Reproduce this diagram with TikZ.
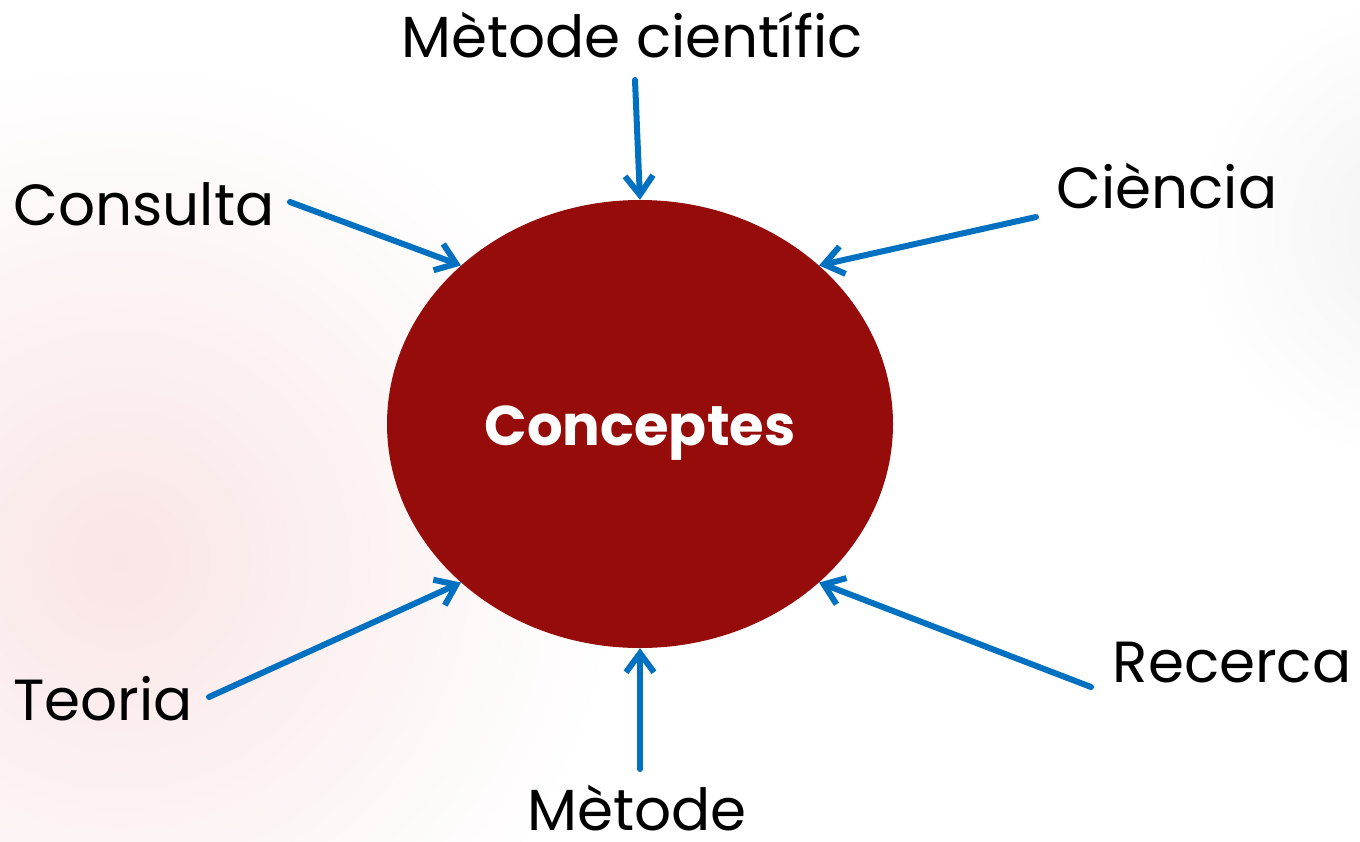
\documentclass[tikz,border=0pt]{standalone}
\usepackage{fontspec}
\setmainfont{Poppins}
\usetikzlibrary{arrows.meta,shapes.geometric}
\definecolor{concred}{HTML}{950C0A}
\definecolor{arrblue}{HTML}{0070C0}
\definecolor{glowpink}{HTML}{FAE6E6}
\definecolor{glowgrey}{HTML}{F2F2F2}
\begin{document}
\begin{tikzpicture}[x=1pt, y=-1pt, line join=round, line cap=round, >={Straight Barb[length=19pt,width=28pt]}]

		\tikzset{word/.style={font=\fontsize{58}{70}\selectfont, anchor=base, inner sep=0pt},
			feed/.style={->, draw=arrblue, line width=6pt}}

		\useasboundingbox (0,0) rectangle (1360,841);
		\fill[white] (0,0) rectangle (1360,841);
		\begin{scope}
		\clip (0,0) rectangle (1360,841);
		\shade[inner color=glowpink, outer color=white] (120,560) circle (500);
		\shade[inner color=glowgrey, outer color=white] (1430,230) circle (240);
		\end{scope}

		\node[ellipse, fill=concred, minimum width=506, minimum height=448, inner sep=0pt] (conc) at (640,424) {};
		\node[anchor=base, inner sep=0pt, text=white, font=\fontsize{56}{67}\selectfont\bfseries] (conct) at (640,445) {Conceptes};

		\node[word] (metc) at (632,57) {Mètode científic};
		\node[word] (cons) at (144,225) {Consulta};
		\node[word] (cien) at (1167,208) {Ciència};
		\node[word] (teor) at (103,720) {Teoria};
		\node[word] (rece) at (1232,682) {Recerca};
		\node[word] (meto) at (637,830) {Mètode};

		\coordinate (metcs) at (635,80);
		\coordinate (conss) at (290,202);
		\coordinate (ciens) at (1036,217);
		\coordinate (teors) at (209,697);
		\coordinate (reces) at (1091,687);
		\coordinate (metos) at (640,769);

		\draw[feed] (metcs)--(conc.north);
		\draw[feed] (conss)--(conc.north west);
		\draw[feed] (ciens)--(conc.north east);
		\draw[feed] (teors)--(conc.south west);
		\draw[feed] (reces)--(conc.south east);
		\draw[feed] (metos)--(conc.south);
	\end{tikzpicture}
\end{document}
